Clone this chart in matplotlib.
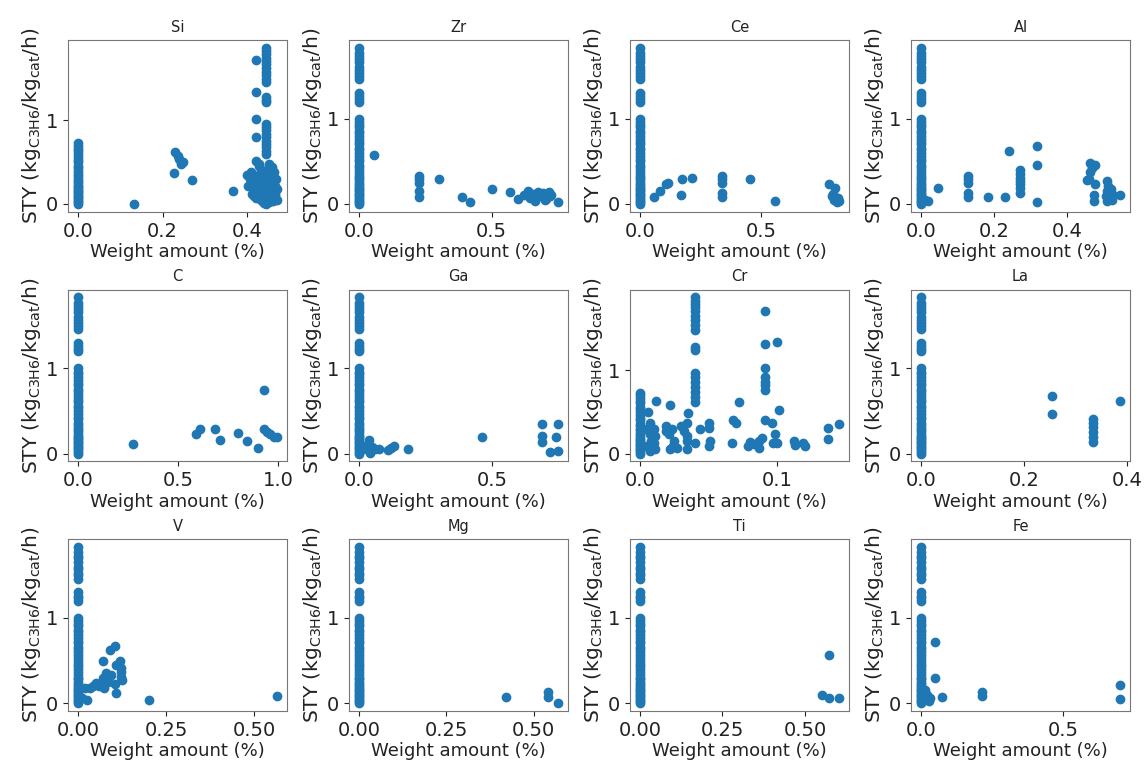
import matplotlib
matplotlib.use("Agg")
import matplotlib.pyplot as plt

# ---- data ----
elements = ["Si", "Zr", "Ce", "Al", "C", "Ga", "Cr", "La", "V", "Mg", "Ti", "Fe"]

# STY values of samples at 0 wt% (common column)
base_low = [0.0, 0.02, 0.04, 0.06, 0.08, 0.1, 0.12, 0.14, 0.16, 0.18, 0.2, 0.22,
            0.25, 0.28, 0.3, 0.33, 0.36, 0.4, 0.43, 0.46, 0.5, 0.53, 0.56, 0.6,
            0.63, 0.66, 0.7, 0.73]
base_high = [0.76, 0.8, 0.83, 0.86, 0.9, 0.93, 0.96, 1.0, 1.2, 1.23, 1.26, 1.3,
             1.46, 1.5, 1.53, 1.57, 1.6, 1.66, 1.7, 1.73, 1.77, 1.83]

si_x = [0.132, 0.23, 0.235, 0.239, 0.243, 0.247, 0.227, 0.269, 0.367,
        0.443, 0.443, 0.443, 0.443, 0.443, 0.443, 0.443, 0.443, 0.443, 0.443, 0.443,
        0.443, 0.443, 0.443, 0.443, 0.443, 0.443, 0.443, 0.443, 0.443, 0.443, 0.443,
        0.443, 0.443,
        0.42, 0.42, 0.42, 0.42, 0.42,
        0.40, 0.405, 0.41, 0.415, 0.42, 0.425, 0.43, 0.435, 0.44, 0.445, 0.45, 0.455,
        0.46, 0.465, 0.47, 0.402, 0.408, 0.412, 0.418, 0.428, 0.433, 0.438, 0.448,
        0.452, 0.458, 0.462, 0.468, 0.41, 0.42, 0.43, 0.44, 0.45, 0.46, 0.465, 0.455,
        0.445, 0.435, 0.425, 0.415, 0.44, 0.45, 0.46, 0.47, 0.43, 0.42, 0.448, 0.458,
        0.466, 0.438, 0.428]
si_y = [0.0, 0.62, 0.58, 0.54, 0.48, 0.5, 0.37, 0.29, 0.155,
        1.87, 1.83, 1.79, 1.75, 1.71, 1.68, 1.63, 1.58, 1.54, 1.5, 1.46,
        1.28, 1.25, 1.22, 0.96, 0.92, 0.88, 0.84, 0.8, 0.76, 0.72, 0.68,
        0.64, 0.6,
        1.73, 1.34, 1.02, 0.8, 0.52,
        0.35, 0.3, 0.25, 0.2, 0.15, 0.1, 0.06, 0.03, 0.01, 0.0, 0.02, 0.05,
        0.08, 0.12, 0.18, 0.22, 0.38, 0.32, 0.28, 0.45, 0.4, 0.36, 0.42,
        0.48, 0.44, 0.38, 0.3, 0.12, 0.07, 0.2, 0.27, 0.33, 0.25, 0.22, 0.15,
        0.1, 0.14, 0.18, 0.09, 0.05, 0.1, 0.03, 0.05, 0.26, 0.33, 0.2, 0.16,
        0.1, 0.4, 0.48]

zr_x = [0.056, 0.225, 0.225, 0.225, 0.225, 0.225, 0.30, 0.39, 0.42, 0.50, 0.57,
        0.60, 0.62, 0.635, 0.645, 0.655, 0.665, 0.675, 0.685, 0.695, 0.705, 0.715,
        0.725, 0.64, 0.66, 0.68, 0.70, 0.72, 0.75]
zr_y = [0.57, 0.33, 0.29, 0.25, 0.15, 0.08, 0.29, 0.08, 0.02, 0.18, 0.14,
        0.055, 0.1, 0.15, 0.07, 0.12, 0.03, 0.14, 0.09, 0.13, 0.06, 0.14,
        0.1, 0.11, 0.08, 0.12, 0.05, 0.09, 0.02]

ce_x = [0.059, 0.082, 0.107, 0.116, 0.171, 0.175, 0.216, 0.336, 0.336, 0.336,
        0.336, 0.336, 0.455, 0.555, 0.778, 0.805, 0.79, 0.80, 0.81, 0.82, 0.795,
        0.815]
ce_y = [0.08, 0.15, 0.23, 0.25, 0.11, 0.29, 0.31, 0.33, 0.29, 0.25, 0.13, 0.08,
        0.29, 0.04, 0.23, 0.19, 0.09, 0.05, 0.02, 0.03, 0.12, 0.07]

al_x = [0.011, 0.018, 0.046, 0.128, 0.128, 0.128, 0.128, 0.128, 0.184, 0.23,
        0.241, 0.27, 0.27, 0.27, 0.27, 0.27, 0.27, 0.27, 0.316, 0.316, 0.316,
        0.461, 0.468, 0.463, 0.459, 0.476, 0.453, 0.476, 0.474, 0.472,
        0.507, 0.51, 0.507, 0.505, 0.509, 0.52, 0.523, 0.526, 0.544]
al_y = [0.05, 0.03, 0.19, 0.33, 0.29, 0.24, 0.13, 0.08, 0.08, 0.08,
        0.62, 0.4, 0.35, 0.31, 0.27, 0.23, 0.19, 0.13, 0.68, 0.46, 0.02,
        0.48, 0.42, 0.37, 0.29, 0.46, 0.28, 0.23, 0.11, 0.03,
        0.27, 0.21, 0.15, 0.09, 0.03, 0.17, 0.05, 0.11, 0.11]

c_x = [0.273, 0.588, 0.609, 0.682, 0.709, 0.80, 0.845, 0.897, 0.927, 0.927,
       0.944, 0.96, 0.977, 0.993]
c_y = [0.115, 0.23, 0.29, 0.29, 0.16, 0.24, 0.15, 0.07, 0.74, 0.29,
       0.25, 0.23, 0.2, 0.19]

ga_x = [0.015, 0.025, 0.037, 0.034, 0.04, 0.05, 0.059, 0.075, 0.11, 0.12, 0.13,
        0.184, 0.46, 0.684, 0.684, 0.684, 0.715, 0.746, 0.74, 0.746]
ga_y = [0.05, 0.09, 0.16, 0.07, 0.01, 0.08, 0.05, 0.05, 0.04, 0.07, 0.09,
        0.05, 0.19, 0.35, 0.21, 0.13, 0.02, 0.35, 0.2, 0.03]

cr_x = [0.006, 0.007, 0.005, 0.007, 0.008, 0.005, 0.007, 0.012, 0.01, 0.011,
        0.01, 0.011, 0.022, 0.019, 0.019, 0.021, 0.023, 0.025, 0.024, 0.022,
        0.027, 0.03, 0.032, 0.034, 0.034, 0.035, 0.034, 0.034,
        0.04, 0.04, 0.04, 0.04, 0.04, 0.04, 0.04, 0.04, 0.04, 0.04, 0.04, 0.04,
        0.04, 0.04, 0.04, 0.04, 0.04, 0.04, 0.04,
        0.044, 0.05, 0.05, 0.051, 0.05, 0.068, 0.07, 0.072, 0.067,
        0.08, 0.079, 0.083, 0.087, 0.089, 0.087,
        0.091, 0.091, 0.091, 0.091, 0.091, 0.091, 0.091, 0.091,
        0.096, 0.098, 0.097, 0.1, 0.101, 0.1, 0.112, 0.113, 0.119, 0.12,
        0.137, 0.137, 0.145]
cr_y = [0.5, 0.37, 0.29, 0.23, 0.15, 0.09, 0.03, 0.63, 0.29, 0.21,
        0.13, 0.05, 0.58, 0.33, 0.27, 0.23, 0.29, 0.15, 0.09, 0.05,
        0.07, 0.33, 0.27, 0.21, 0.15, 0.48, 0.37, 0.05,
        1.87, 1.83, 1.79, 1.75, 1.71, 1.65, 1.6, 1.54, 1.48, 1.28, 1.24, 0.96,
        0.92, 0.86, 0.8, 0.74, 0.68, 0.62, 0.13,
        0.29, 0.37, 0.31, 0.15, 0.09, 0.4, 0.37, 0.62, 0.13,
        0.14, 0.09, 0.11, 0.15, 0.19, 0.07,
        1.71, 1.31, 1.02, 0.92, 0.86, 0.82, 0.76, 0.4,
        0.37, 0.23, 0.13, 1.34, 0.52, 0.13, 0.15, 0.1, 0.13, 0.09,
        0.31, 0.17, 0.35]

la_x = [0.255, 0.255, 0.335, 0.335, 0.335, 0.335, 0.335, 0.335, 0.387]
la_y = [0.67, 0.46, 0.4, 0.36, 0.31, 0.25, 0.2, 0.13, 0.62]

v_x = [0.012, 0.019, 0.025, 0.033, 0.042, 0.052, 0.059, 0.066, 0.071, 0.071,
       0.073, 0.08, 0.085, 0.09, 0.094, 0.104, 0.104, 0.107, 0.108, 0.118,
       0.123, 0.123, 0.125, 0.123, 0.2, 0.564]
v_y = [0.06, 0.18, 0.04, 0.18, 0.2, 0.24, 0.2, 0.22, 0.49, 0.29,
       0.18, 0.35, 0.25, 0.62, 0.33, 0.67, 0.22, 0.12, 0.45, 0.49,
       0.41, 0.31, 0.27, 0.37, 0.035, 0.08]

mg_x = [0.421, 0.54, 0.54, 0.57]
mg_y = [0.067, 0.13, 0.067, 0.0]

ti_x = [0.573, 0.552, 0.573, 0.603]
ti_y = [0.56, 0.1, 0.06, 0.06]

fe_x = [0.05, 0.05, 0.015, 0.021, 0.033, 0.027, 0.074, 0.215, 0.215, 0.702, 0.702]
fe_y = [0.72, 0.29, 0.16, 0.1, 0.06, 0.02, 0.067, 0.13, 0.08, 0.21, 0.05]

extra = {
    "Si": (si_x, si_y, False), "Zr": (zr_x, zr_y, True), "Ce": (ce_x, ce_y, True),
    "Al": (al_x, al_y, True), "C": (c_x, c_y, True), "Ga": (ga_x, ga_y, True),
    "Cr": (cr_x, cr_y, False), "La": (la_x, la_y, True), "V": (v_x, v_y, True),
    "Mg": (mg_x, mg_y, True), "Ti": (ti_x, ti_y, True), "Fe": (fe_x, fe_y, True),
}

# ---- plotting ----
plt.rcParams['font.family'] = ['DejaVu Sans']
fig, axes = plt.subplots(3, 4, figsize=(11.44, 7.64), dpi=100)
fig.subplots_adjust(left=68/1144, right=1130/1144, top=1-40/764, bottom=1-711/764,
                    wspace=0.283, hspace=0.453)

ylab = r'STY (kg$_{\mathrm{C3H6}}$/kg$_{\mathrm{cat}}$/h)'
for ax, el in zip(axes.flat, elements):
    ex, ey, full = extra[el]
    zero_y = base_low + (base_high if full else [])
    xs = [0.0] * len(zero_y) + list(ex)
    ys = list(zero_y) + list(ey)
    ax.scatter(xs, ys, s=36, color='#1f77b4', zorder=3)
    ax.set_title(el, fontsize=10.5, color='#222222')
    ax.set_xlabel('Weight amount (%)', fontsize=13, color='#222222', labelpad=2)
    ax.set_ylabel(ylab, fontsize=14.5, color='#222222', labelpad=2)
    ax.set_yticks([0, 1])
    ax.tick_params(labelsize=14, colors='#222222')
    for sp in ax.spines.values():
        sp.set_color('#777777')

fig.savefig('out.png', dpi=100)
